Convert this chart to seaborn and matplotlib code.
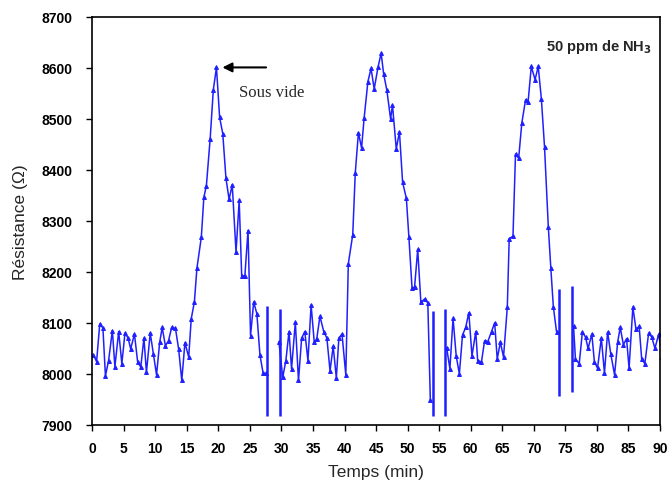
import numpy as np
import pandas as pd
import matplotlib
matplotlib.use("Agg")
import matplotlib.pyplot as plt
import seaborn as sns

t1 = [0.2, 0.7, 1.2, 1.7, 2.1, 2.6, 3.2, 3.6, 4.2, 4.7, 5.2, 5.7, 6.1, 6.7, 7.2, 7.7,
      8.2, 8.6, 9.2, 9.7, 10.2, 10.7, 11.1, 11.6, 12.1, 12.6, 13.2, 13.7, 14.2, 14.7,
      15.3, 15.7, 16.2, 16.6, 17.3, 17.7, 18.1, 18.7, 19.2, 19.7, 20.2, 20.7, 21.2,
      21.7, 22.2, 22.8, 23.3, 23.7, 24.2, 24.7, 25.1, 25.6, 26.1, 26.6, 27.1, 27.6]
r1 = [8037, 8024, 8098, 8090, 7996, 8026, 8085, 8014, 8083, 8020, 8080, 8070, 8049,
      8078, 8024, 8013, 8070, 8003, 8080, 8039, 7998, 8062, 8091, 8055, 8065, 8091,
      8089, 8049, 7987, 8061, 8033, 8108, 8141, 8207, 8268, 8346, 8369, 8461, 8557,
      8601, 8503, 8471, 8384, 8342, 8371, 8239, 8340, 8192, 8192, 8281, 8075, 8141,
      8118, 8036, 8001, 8001]

t2 = [29.6, 30.2, 30.7, 31.2, 31.6, 32.2, 32.7, 33.2, 33.7, 34.2, 34.7, 35.2, 35.6,
      36.1, 36.7, 37.2, 37.7, 38.2, 38.7, 39.1, 39.6, 40.2, 40.6, 41.3, 41.7, 42.2,
      42.7, 43.1, 43.7, 44.2, 44.7, 45.3, 45.8, 46.2, 46.7, 47.3, 47.6, 48.2, 48.7,
      49.2, 49.8, 50.2, 50.7, 51.1, 51.6, 52.1, 52.7, 53.2, 53.6]
r2 = [8063, 7993, 8026, 8083, 8010, 8101, 7987, 8070, 8083, 8026, 8135, 8062, 8069,
      8113, 8083, 8070, 8006, 8054, 7992, 8070, 8078, 7998, 8216, 8273, 8394, 8473,
      8443, 8501, 8573, 8599, 8559, 8601, 8629, 8588, 8557, 8500, 8527, 8441, 8475,
      8376, 8344, 8268, 8168, 8170, 8244, 8140, 8147, 8139, 7948]

t3 = [56.2, 56.7, 57.2, 57.7, 58.2, 58.7, 59.2, 59.7, 60.2, 60.8, 61.1, 61.7, 62.2,
      62.7, 63.3, 63.8, 64.2, 64.7, 65.2, 65.8, 66.1, 66.7, 67.1, 67.6, 68.1, 68.7,
      69.1, 69.6, 70.2, 70.7, 71.2, 71.7, 72.3, 72.7, 73.1, 73.6]
r3 = [8050, 8010, 8109, 8035, 8000, 8076, 8091, 8120, 8035, 8083, 8026, 8023, 8065,
      8063, 8083, 8100, 8029, 8062, 8033, 8131, 8265, 8270, 8431, 8423, 8492, 8538,
      8534, 8603, 8577, 8603, 8539, 8445, 8288, 8207, 8131, 8083]

t4 = [76.3, 76.6, 77.2, 77.7, 78.2, 78.6, 79.2, 79.6, 80.1, 80.7, 81.2, 81.7, 82.2,
      82.8, 83.3, 83.7, 84.2, 84.7, 85.1, 85.7, 86.2, 86.7, 87.1, 87.6, 88.2, 88.7,
      89.2, 89.8, 90.3]
r4 = [8093, 8029, 8020, 8082, 8072, 8050, 8078, 8024, 8011, 8070, 8002, 8082, 8039,
      7998, 8063, 8091, 8057, 8069, 8011, 8131, 8087, 8093, 8029, 8020, 8080, 8072,
      8050, 8078, 8033]

# traits verticaux (commutation gaz / vide)
v_t = [27.7, 29.8, 54.1, 55.9, 74.0, 76.0]
v_haut = [8134, 8127, 8124, 8127, 8167, 8172]
v_bas = [7918, 7918, 7918, 7918, 7957, 7964]

df = pd.concat([
    pd.DataFrame({"temps": t1, "res": r1, "seg": 1}),
    pd.DataFrame({"temps": t2, "res": r2, "seg": 2}),
    pd.DataFrame({"temps": t3, "res": r3, "seg": 3}),
    pd.DataFrame({"temps": t4, "res": r4, "seg": 4}),
])

sns.set_style("ticks")
plt.rcParams["font.family"] = ["Liberation Sans", "DejaVu Sans"]

fig = plt.figure(figsize=(6.68, 4.85), dpi=100)
ax = fig.add_axes([0.138, 0.122, 0.85, 0.841])

bleu = "#1f1fff"
sns.lineplot(data=df, x="temps", y="res", units="seg", estimator=None,
             color=bleu, linewidth=1.1, marker="^", markersize=2.8,
             markeredgecolor=bleu, ax=ax, legend=False)
ax.vlines(v_t, v_bas, v_haut, colors=bleu, linewidth=1.8)

ax.set_xlim(0, 90)
ax.set_ylim(7900, 8700)
ax.set_xticks(np.arange(0, 91, 5))
ax.set_yticks(np.arange(7900, 8701, 100))
for s in ax.spines.values():
    s.set_color("black")
    s.set_linewidth(1.2)
ax.tick_params(direction="out", length=4, width=1, colors="black", labelsize=10)
ax.tick_params(axis="x", pad=8)
ax.tick_params(axis="y", pad=10)
for lab in ax.get_xticklabels() + ax.get_yticklabels():
    lab.set_fontweight("bold")

ax.set_xlabel("Temps (min)", fontsize=12.5, labelpad=6)
ax.set_ylabel("Résistance (Ω)", fontsize=12.5, labelpad=10)

ax.annotate("", xy=(20.2, 8601), xytext=(28.0, 8601),
            arrowprops=dict(arrowstyle="-|>", color="black", lw=1.5, mutation_scale=14))
ax.text(23.2, 8553, "Sous vide", fontsize=12, family="Liberation Serif",
        va="center", ha="left")
ax.text(88.8, 8643, r"50 ppm de NH$_\mathbf{3}$", fontsize=10.5, fontweight="bold",
        ha="right", va="center")

fig.savefig("out.png", dpi=100)
